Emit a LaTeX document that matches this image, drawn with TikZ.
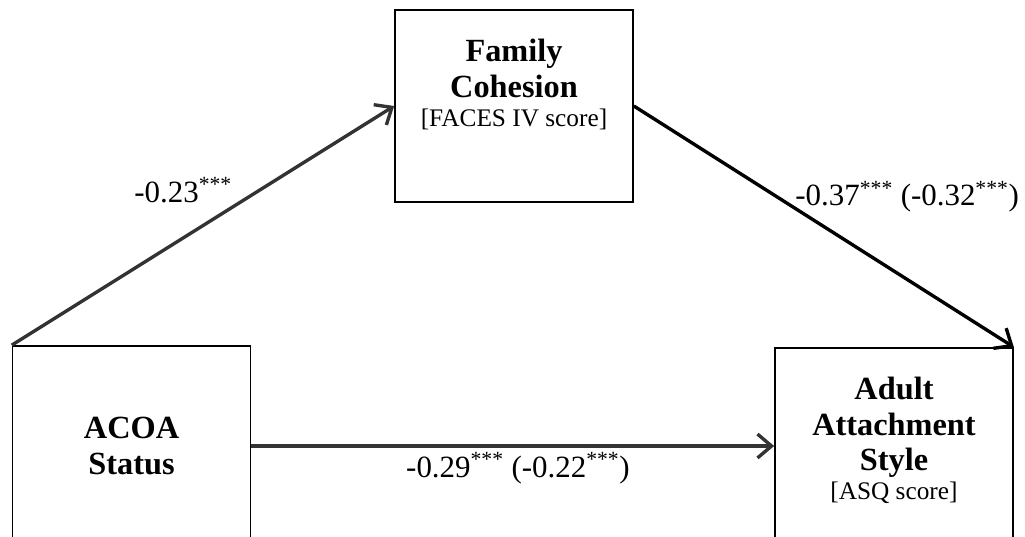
\documentclass[tikz,border=0pt]{standalone}
\usepackage{fontspec}
\setmainfont{Liberation Serif}
\usetikzlibrary{arrows.meta,positioning,calc}

\begin{document}
\begin{tikzpicture}[>={Straight Barb[length=10pt,width=17pt]}]

    % box, arrow and coefficient styles
    \tikzset{
        varbox/.style={draw, line width=1.2pt, minimum width=5.95cm, inner sep=0pt},
        vartext/.style={align=center, inner sep=0pt, font=\fontsize{23}{25}\selectfont\bfseries},
        effect/.style={->, line width=2.4pt},
        coeff/.style={font=\fontsize{22}{26}\selectfont, inner sep=0pt}
    }
    \newcommand{\scoretext}[1]{{\fontsize{18}{21}\selectfont\mdseries #1}}

    % page frame, the two lower boxes run off the bottom edge
    \useasboundingbox (0,0) rectangle (25.625,-13.425);
    \clip (0,0) rectangle (25.625,-13.425);

    % === VARIABLE BOXES ===
    \node[varbox, minimum height=4.8cm] (cohesion) at (12.85,-2.65) {};
    \node[varbox, minimum height=5cm] (acoa) at (3.29,-11.15) {};
    \node[varbox, minimum height=5cm] (attach) at (22.35,-11.2) {};

    \node[vartext, anchor=north] (cohesiontext) at ([yshift=-0.75cm]cohesion.north)
        {Family\\Cohesion\\[-4pt]\scoretext{[FACES IV score]}};
    \node[vartext] (acoatext) at (acoa) {ACOA\\Status};
    \node[vartext, anchor=north] (attachtext) at ([yshift=-0.75cm]attach.north)
        {Adult\\Attachment\\Style\\[-4pt]\scoretext{[ASQ score]}};

    % === PATH ARROWS ===
    % ACOA -> Cohesion
    \draw[effect, draw=black!80] (acoa.north west) -- (cohesion.west);
    % Cohesion -> Attachment
    \draw[effect] (cohesion.east) -- (attach.north east);
    % ACOA -> Attachment (direct)
    \draw[effect, draw=black!80] (acoa.east) -- (acoa.east -| attach.west);

    % === COEFFICIENTS ===
    \node[coeff] (apath) at (4.58,-4.75) {-0.23\textsuperscript{***}};
    \node[coeff] (bpath) at (22.68,-4.92) {-0.37\textsuperscript{***} (-0.32\textsuperscript{***})};
    \node[coeff] (cpath) at (12.95,-11.7) {-0.29\textsuperscript{***} (-0.22\textsuperscript{***})};

\end{tikzpicture}
\end{document}
